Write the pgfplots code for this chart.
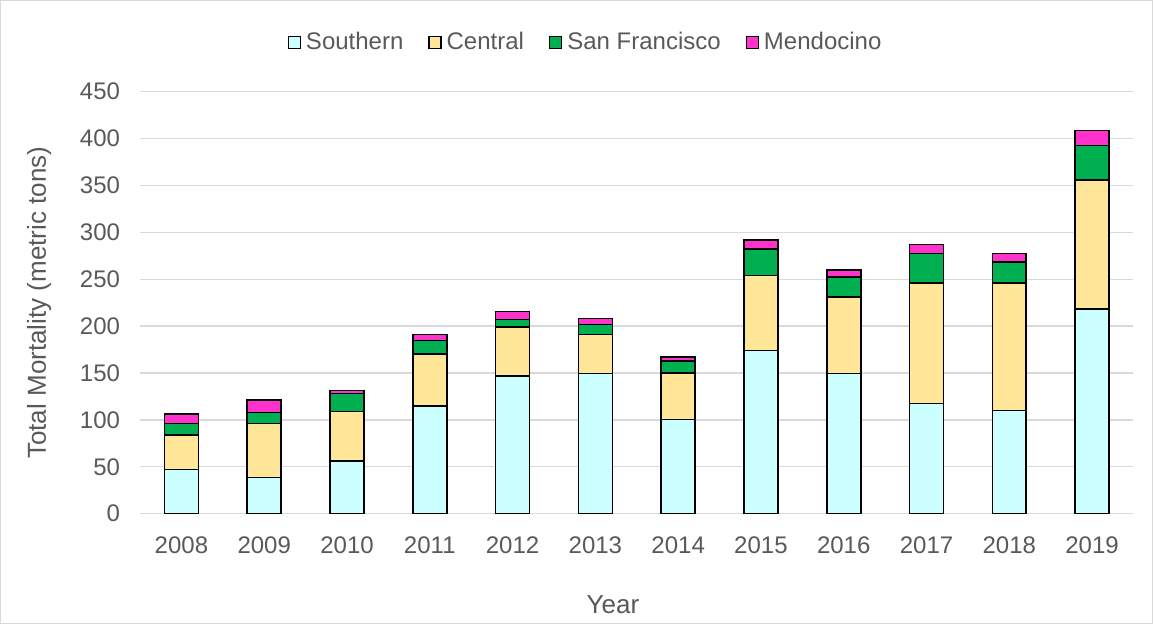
\documentclass[border=0pt]{standalone}
\usepackage{fontspec}
\setmainfont{Liberation Sans}
\usepackage{pgfplots}
\pgfplotsset{compat=1.18}
\usepackage{pgfplotstable}
\definecolor{southern}{HTML}{CCFFFF}
\definecolor{central}{HTML}{FFE699}
\definecolor{sanfran}{HTML}{00B050}
\definecolor{mendo}{HTML}{FF33CC}
\definecolor{gridgray}{HTML}{D9D9D9}
\definecolor{txtgray}{HTML}{595959}

% year, then tonnes by management area
\pgfplotstableread{
year southern central sanfran mendo
2008 47    37    12   10
2009 38.5  57.5  12   13
2010 56.5  52.5  19   3.5
2011 115   55.5  14   6.5
2012 146.5 52.5  8    8.5
2013 149.5 41.5  10.5 6.5
2014 100.5 49.5  12.5 4.5
2015 174   80    28   9.5
2016 149.5 81.5  21.5 7.5
2017 117.5 128.5 31.5 9.5
2018 110   136   22.5 9
2019 218.5 137.5 36.5 16
}\mortality

\begin{document}
\begin{tikzpicture}
\begin{axis}[
  at={(0,0)}, anchor=south west,
  scale only axis,
  width=496.5pt, height=211pt,
  ybar stacked, bar width=0.41,
  xmin=2007.5, xmax=2019.5,
  ymin=0, ymax=450, ytick={0,50,...,450},
  xtick=data,
  /pgf/number format/.cd, 1000 sep={}, assume math mode=true, /pgfplots/.cd,
  axis line style={draw=none},
  major tick length=0pt,
  ymajorgrids, grid style={gridgray, line width=0.65pt},
  tick label style={font=\fontsize{12}{14}\selectfont, text=txtgray},
  x tick label style={yshift=-8pt},
  y tick label style={xshift=-6.5pt},
  xlabel={Year}, ylabel={Total Mortality (metric tons)},
  label style={font=\fontsize{13}{15}\selectfont, text=txtgray},
  xlabel style={at={(axis description cs:0.476,-0.216)}, anchor=center},
  ylabel style={at={(axis description cs:-0.1015,0.5)}, anchor=center, rotate=0},
  every axis plot/.append style={draw=black, line width=0.8pt},
  legend style={draw=none, fill=none, legend columns=-1,
    at={(0.45,1.117)}, anchor=center,
    font=\fontsize{12}{14}\selectfont, text=txtgray,
    /tikz/every even column/.append style={column sep=10pt},
    nodes={inner sep=2.5pt}},
  legend image code/.code={\draw[#1, draw=black, line width=0.6pt] (0pt,-3pt) rectangle (6pt,3pt);},
]
\addplot[fill=southern] table[x=year, y=southern] {\mortality};
\addplot[fill=central] table[x=year, y=central] {\mortality};
\addplot[fill=sanfran] table[x=year, y=sanfran] {\mortality};
\addplot[fill=mendo] table[x=year, y=mendo] {\mortality};
\legend{Southern, Central, San Francisco, Mendocino}
\end{axis}
\draw[gridgray, line width=0.5pt] (-69.75pt,-54.75pt) rectangle (506pt,256.5pt);
\end{tikzpicture}
\end{document}
